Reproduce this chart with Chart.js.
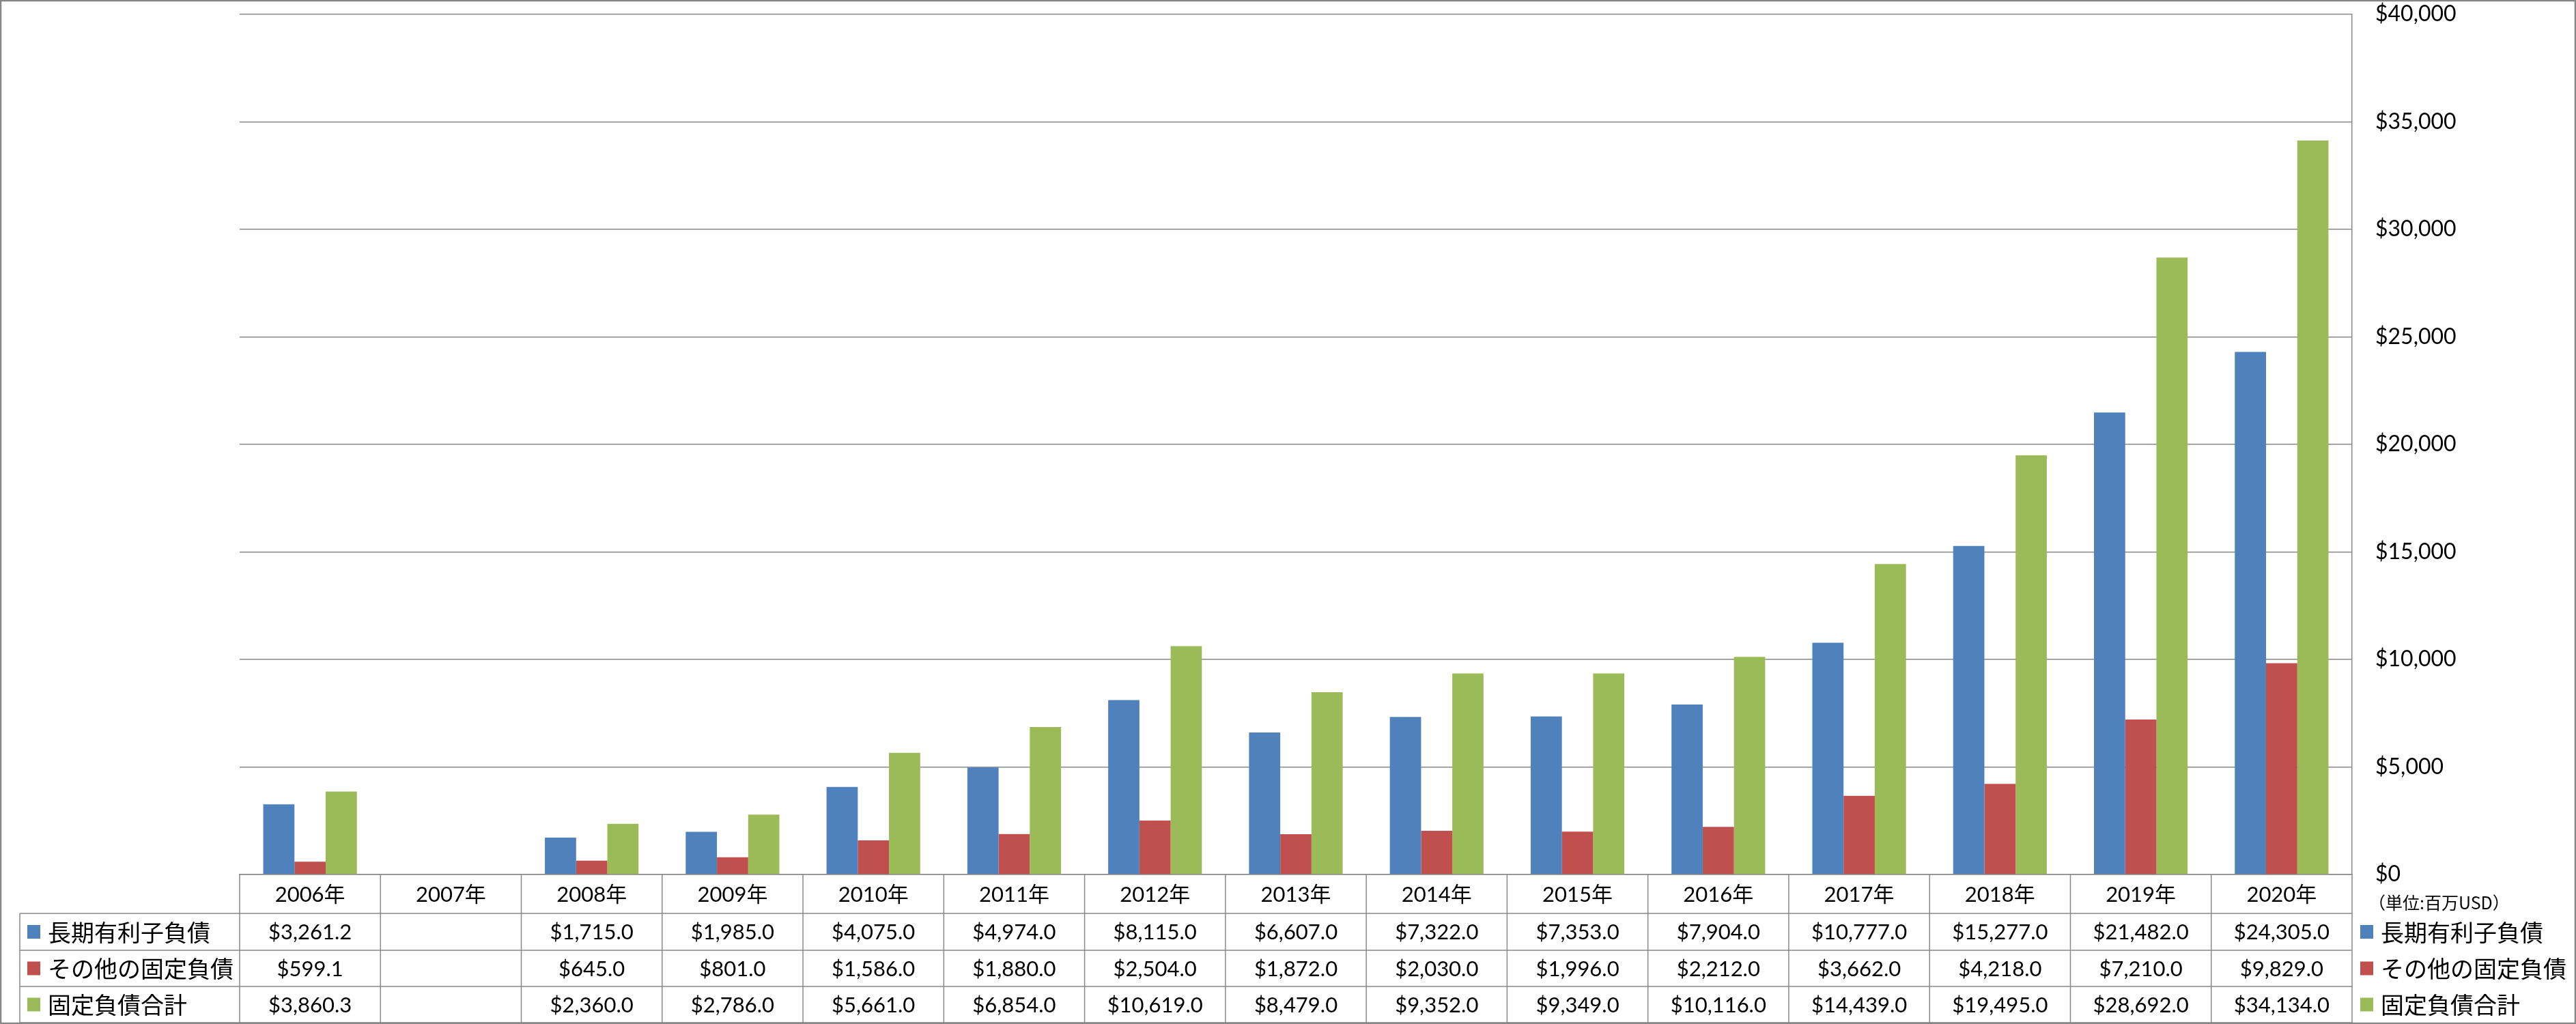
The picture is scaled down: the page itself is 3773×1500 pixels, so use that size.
<!DOCTYPE html>
<html>
<head>
<meta charset="utf-8">
<script src="https://cdn.jsdelivr.net/npm/chart.js@4.4.1/dist/chart.umd.min.js"></script>
<style>
  html, body { margin: 0; padding: 0; background: #fff; }
  canvas { display: block; }
</style>
</head>
<body>
<canvas id="debtChart" width="3773" height="1500"></canvas>
<script>
// --- データ ---
const years = ['2006年', '2007年', '2008年', '2009年', '2010年', '2011年', '2012年', '2013年',
    '2014年', '2015年', '2016年', '2017年', '2018年', '2019年', '2020年'];
const longTermDebt = [3261.2, null, 1715.0, 1985.0, 4075.0, 4974.0, 8115.0, 6607.0,
    7322.0, 7353.0, 7904.0, 10777.0, 15277.0, 21482.0, 24305.0];
const otherFixed = [599.1, null, 645.0, 801.0, 1586.0, 1880.0, 2504.0, 1872.0,
    2030.0, 1996.0, 2212.0, 3662.0, 4218.0, 7210.0, 9829.0];
const fixedTotal = [3860.3, null, 2360.0, 2786.0, 5661.0, 6854.0, 10619.0, 8479.0,
    9352.0, 9349.0, 10116.0, 14439.0, 19495.0, 28692.0, 34134.0];
const seriesNames = ['長期有利子負債', 'その他の固定負債', '固定負債合計'];
const seriesColors = ['#4F81BD', '#C0504D', '#9BBB59'];
const unitLabel = '（単位:百万USD）';

const LINE = '#898989';
const NUM_FONT = '31px Lato, "Noto Sans CJK JP"';
const JP_FONT = '34px "Noto Sans CJK JP"';

const money = v => v == null ? '' :
    '$' + v.toLocaleString('en-US', { minimumFractionDigits: 1, maximumFractionDigits: 1 });

// --- データテーブル (x軸の下) ---
const dataTablePlugin = {
    id: 'dataTable',
    afterDraw(chart) {
        const ctx = chart.ctx;
        const area = chart.chartArea;
        const xs = chart.scales.x;
        const n = years.length;
        const colW = (area.right - area.left) / n;
        const tableLeft = 29;
        const rowH = [57, 54, 53, 53];
        const rowTop = [area.bottom];
        rowH.forEach((h, i) => rowTop.push(rowTop[i] + h));
        const rows = [longTermDebt, otherFixed, fixedTotal];

        ctx.save();
        ctx.strokeStyle = LINE;
        ctx.lineWidth = 1.5;

        // 横線
        for (let r = 1; r < rowTop.length; r++) {
            ctx.beginPath();
            ctx.moveTo(tableLeft, rowTop[r]);
            ctx.lineTo(area.right, rowTop[r]);
            ctx.stroke();
        }
        // 縦線
        for (let i = 0; i <= n; i++) {
            const x = area.left + i * colW;
            ctx.beginPath();
            ctx.moveTo(x, area.bottom);
            ctx.lineTo(x, rowTop[rowTop.length - 1]);
            ctx.stroke();
        }
        ctx.beginPath();
        ctx.moveTo(tableLeft, rowTop[1]);
        ctx.lineTo(tableLeft, rowTop[rowTop.length - 1]);
        ctx.stroke();

        ctx.fillStyle = '#000';
        ctx.textBaseline = 'middle';
        ctx.textAlign = 'center';
        ctx.font = NUM_FONT;

        // 年 (ヘッダー)
        years.forEach((y, i) => {
            ctx.fillText(y, xs.getPixelForValue(i), (rowTop[0] + rowTop[1]) / 2 + 1);
        });
        // 数値
        rows.forEach((vals, r) => {
            const cy = (rowTop[r + 1] + rowTop[r + 2]) / 2 + 1;
            vals.forEach((v, i) => ctx.fillText(money(v), xs.getPixelForValue(i), cy));
        });

        // 凡例 (左側と右側)
        ctx.textAlign = 'left';
        ctx.font = JP_FONT;
        seriesNames.forEach((name, r) => {
            const cy = (rowTop[r + 1] + rowTop[r + 2]) / 2;
            ctx.fillStyle = seriesColors[r];
            ctx.fillRect(40, cy - 10, 19, 20);
            ctx.fillRect(area.right + 12, cy - 10, 19, 20);
            ctx.fillStyle = '#000';
            ctx.fillText(name, 70, cy + 1);
            ctx.fillText(name, area.right + 42, cy + 1);
        });

        // 単位
        ctx.font = '25px "Noto Sans CJK JP"';
        ctx.fillText(unitLabel, area.right + 24, area.bottom + 41);

        // 外枠
        ctx.lineWidth = 2.5;
        ctx.strokeStyle = '#868686';
        ctx.strokeRect(1, 1, chart.width - 2, chart.height - 2);
        ctx.restore();
    }
};

const ctx = document.getElementById('debtChart').getContext('2d');

new Chart(ctx, {
    type: 'bar',
    data: {
        labels: years,
        datasets: [longTermDebt, otherFixed, fixedTotal].map((d, i) => ({
            label: seriesNames[i],
            data: d,
            backgroundColor: seriesColors[i],
            borderWidth: 0,
            categoryPercentage: 0.665,
            barPercentage: 1.0
        }))
    },
    options: {
        responsive: false,
        animation: false,
        devicePixelRatio: 1,
        layout: { padding: { left: 351, top: 21, right: 0, bottom: 0 } },
        scales: {
            x: {
                grid: { display: false },
                border: { display: true, color: LINE, width: 1.5 },
                ticks: { display: false },
                afterFit: s => { s.height = 219; s.paddingLeft = 0; s.paddingRight = 0; }
            },
            y: {
                position: 'right',
                min: 0,
                max: 40000,
                grid: { color: LINE, lineWidth: 1.5, drawTicks: false },
                border: { display: true, color: LINE, width: 1.5 },
                ticks: {
                    stepSize: 5000,
                    padding: 34,
                    color: '#000',
                    font: { family: 'Lato', size: 32 },
                    callback: v => '$' + v.toLocaleString('en-US')
                },
                // ラベル分の上下余白を消してプロット位置を固定
                afterFit: s => { s.width = 328; s.paddingTop = 0; s.paddingBottom = 0; }
            }
        },
        plugins: {
            legend: { display: false },
            tooltip: { enabled: false }
        }
    },
    plugins: [dataTablePlugin]
});
</script>
</body>
</html>
